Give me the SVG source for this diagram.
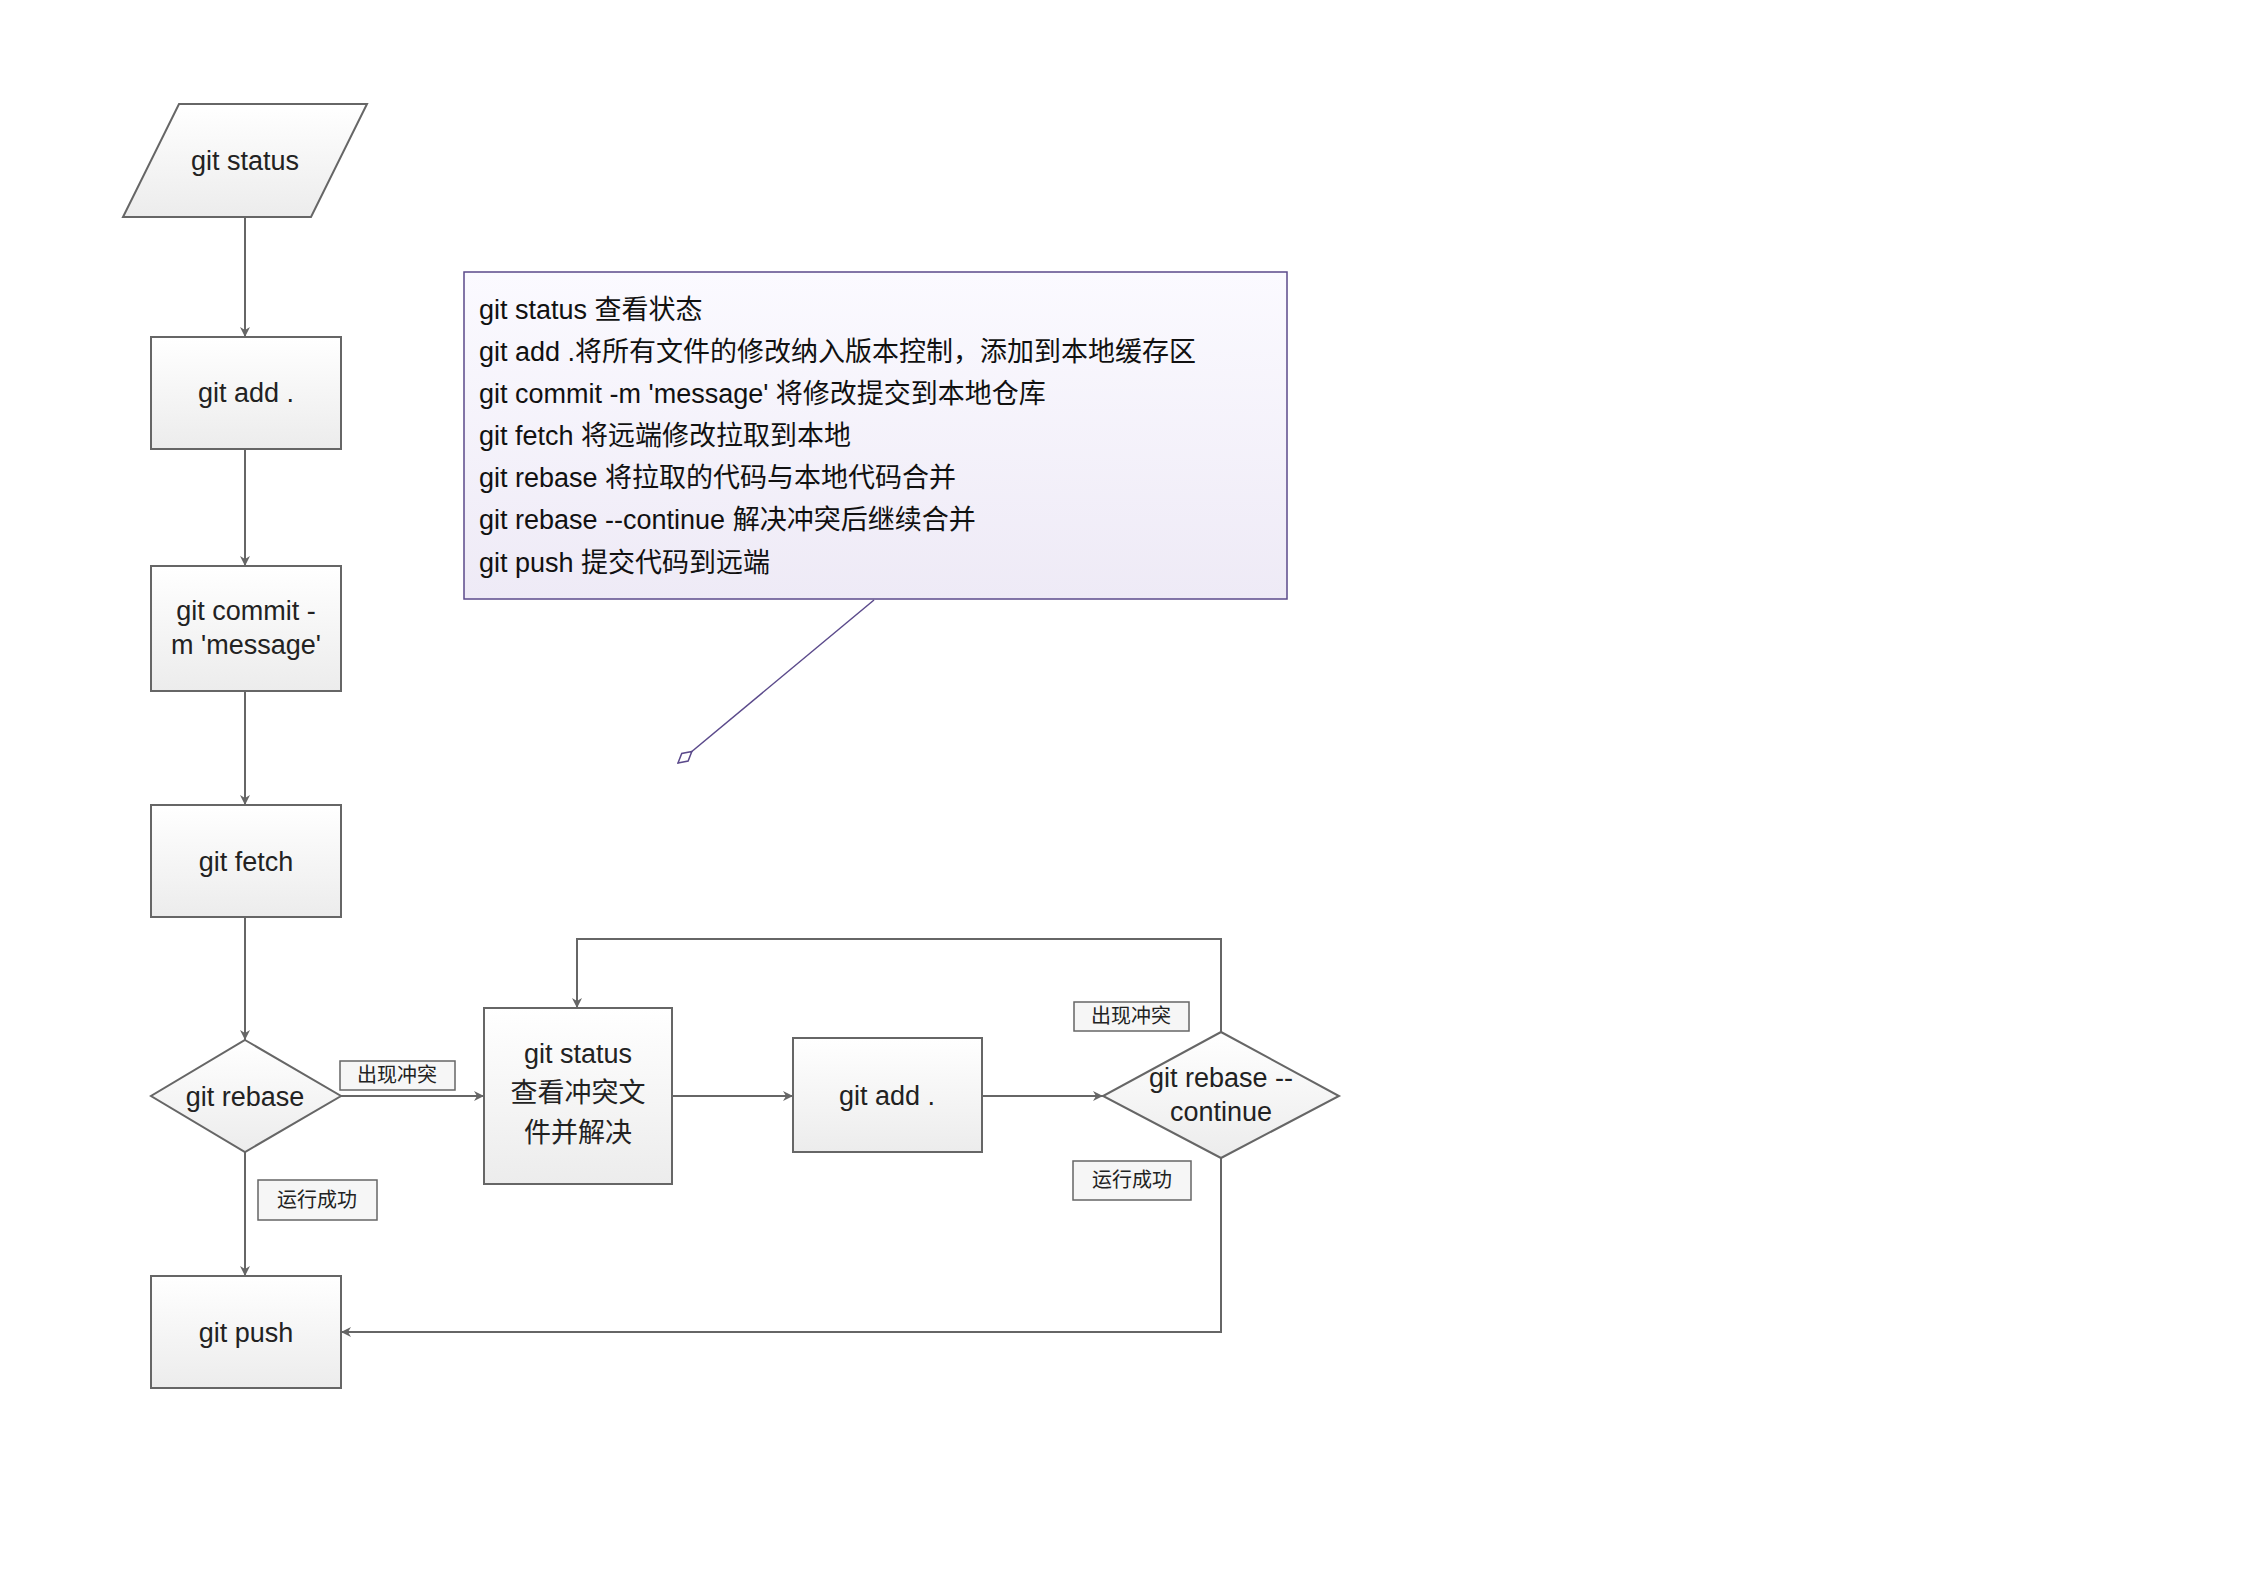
<svg xmlns="http://www.w3.org/2000/svg" width="2246" height="1588" viewBox="0 0 2246 1588">
<defs>
<linearGradient id="g" x1="0" y1="0" x2="0" y2="1"><stop offset="0" stop-color="#ffffff"/><stop offset="1" stop-color="#ececec"/></linearGradient>
<linearGradient id="n" x1="0" y1="0" x2="0" y2="1"><stop offset="0" stop-color="#fbfaff"/><stop offset="1" stop-color="#eeeaf6"/></linearGradient>
<marker id="a" viewBox="0 0 10 10" refX="10" refY="5" markerWidth="10" markerHeight="10" markerUnits="userSpaceOnUse" orient="auto"><path d="M0,0 L10,5 L0,10 L3,5 Z" fill="#666"/></marker>
<marker id="d" viewBox="0 0 20 12" refX="19" refY="6" markerWidth="20" markerHeight="12" markerUnits="userSpaceOnUse" orient="auto"><path d="M1,6 L10,1 L19,6 L10,11 Z" fill="#fff" stroke="#5b4a8b" stroke-width="1.5"/></marker>
</defs>
<style>
.s{fill:url(#g);stroke:#666;stroke-width:2}
.t{font-family:"Liberation Sans","Noto Sans CJK SC",sans-serif;font-size:27px;fill:#222;text-anchor:middle;dominant-baseline:central}
.l{fill:#f6f6f6;stroke:#666;stroke-width:1.5}
.lt{font-family:"Liberation Sans","Noto Sans CJK SC",sans-serif;font-size:20px;fill:#222;text-anchor:middle;dominant-baseline:central}
.c{fill:none;stroke:#666;stroke-width:2;marker-end:url(#a)}
.nt{font-family:"Liberation Sans","Noto Sans CJK SC",sans-serif;font-size:27px;fill:#111;dominant-baseline:central}
</style>
<rect width="2246" height="1588" fill="#fff"/>
<g id="connectors">
<path class="c" d="M245,217 V337"/>
<path class="c" d="M245,449 V566"/>
<path class="c" d="M245,691 V805"/>
<path class="c" d="M245,917 V1040"/>
<path class="c" d="M245,1152 V1276"/>
<path class="c" d="M341,1096 H484"/>
<path class="c" d="M672,1096 H793"/>
<path class="c" d="M982,1096 H1103"/>
<path class="c" d="M1221,1032 V939 H577 V1008"/>
<path class="c" d="M1221,1158 V1332 H341"/>
<path d="M874,600 L678,763" fill="none" stroke="#5b4a8b" stroke-width="1.5" marker-end="url(#d)"/>
</g>
<g id="n1"><path class="s" d="M179,104 H367 L311,217 H123 Z"/><text class="t" x="245" y="161">git status</text></g>
<g id="n2"><rect class="s" x="151" y="337" width="190" height="112"/><text class="t" x="246" y="393">git add .</text></g>
<g id="n3"><rect class="s" x="151" y="566" width="190" height="125"/><text class="t" x="246" y="611">git commit -</text><text class="t" x="246" y="645">m 'message'</text></g>
<g id="n4"><rect class="s" x="151" y="805" width="190" height="112"/><text class="t" x="246" y="862">git fetch</text></g>
<g id="n5"><path class="s" d="M245,1040 L341,1096 L245,1152 L151,1096 Z"/><text class="t" x="245" y="1097">git rebase</text></g>
<g id="n6"><rect class="s" x="151" y="1276" width="190" height="112"/><text class="t" x="246" y="1333">git push</text></g>
<g id="n7"><rect class="s" x="484" y="1008" width="188" height="176"/><text class="t" x="578" y="1054">git status</text><text class="t" x="578" y="1093">查看冲突文</text><text class="t" x="578" y="1133">件并解决</text></g>
<g id="n8"><rect class="s" x="793" y="1038" width="189" height="114"/><text class="t" x="887" y="1096">git add .</text></g>
<g id="n9"><path class="s" d="M1221,1032 L1339,1096 L1221,1158 L1103,1096 Z"/><text class="t" x="1221" y="1078">git rebase --</text><text class="t" x="1221" y="1112">continue</text></g>
<g id="lb1"><rect class="l" x="340" y="1061" width="115" height="29"/><text class="lt" x="397" y="1075">出现冲突</text></g>
<g id="lb2"><rect class="l" x="258" y="1180" width="119" height="40"/><text class="lt" x="317" y="1200">运行成功</text></g>
<g id="lb3"><rect class="l" x="1074" y="1002" width="115" height="29"/><text class="lt" x="1131" y="1016">出现冲突</text></g>
<g id="lb4"><rect class="l" x="1073" y="1161" width="118" height="39"/><text class="lt" x="1132" y="1180">运行成功</text></g>
<g id="note"><rect x="464" y="272" width="823" height="327" fill="url(#n)" stroke="#5b4a8b" stroke-width="1.5"/>
<text class="nt" x="479" y="310">git status 查看状态</text>
<text class="nt" x="479" y="352">git add .将所有文件的修改纳入版本控制，添加到本地缓存区</text>
<text class="nt" x="479" y="394">git commit -m 'message' 将修改提交到本地仓库</text>
<text class="nt" x="479" y="436">git fetch 将远端修改拉取到本地</text>
<text class="nt" x="479" y="478">git rebase 将拉取的代码与本地代码合并</text>
<text class="nt" x="479" y="520">git rebase --continue 解决冲突后继续合并</text>
<text class="nt" x="479" y="563">git push 提交代码到远端</text>
</g>
</svg>
